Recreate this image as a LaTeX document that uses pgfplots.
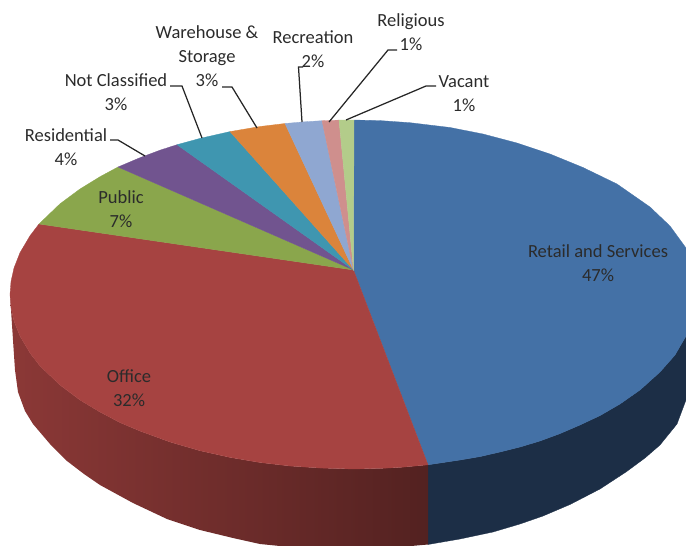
\documentclass[border=0pt]{standalone}
\usepackage{fontspec}
\setmainfont{Carlito}
\usepackage{pgfplots}
\pgfplotsset{compat=1.18}
\definecolor{cRetail}{HTML}{4471A6}
\definecolor{cOffice}{HTML}{A64341}
\definecolor{cPublic}{HTML}{8AA64C}
\definecolor{cResid}{HTML}{71548F}
\definecolor{cNotCl}{HTML}{3F96B0}
\definecolor{cWare}{HTML}{DB843B}
\definecolor{cRecr}{HTML}{8FA7D1}
\definecolor{cRelig}{HTML}{CF8F8D}
\definecolor{cVacant}{HTML}{B3CC8A}
\definecolor{cRetailSide}{HTML}{1C2E46}
\definecolor{txt}{HTML}{2B2B2B}
\tikzset{
  wedge/.style={draw=#1,fill=#1,line width=.3pt},
  leader/.style={black!85,line width=1.25pt},
  lab/.style={font=\fontsize{18.5}{24}\selectfont,align=center,text=txt,inner sep=0pt},
}
\begin{document}
\begin{tikzpicture}
\begin{axis}[
  scale only axis,width=686pt,height=546pt,
  xmin=0,xmax=686,ymin=0,ymax=546,y dir=reverse,
  xtick=\empty,ytick=\empty,axis line style={draw=none},
  no markers,clip=true,
]
% side walls
\addplot[wedge=cRetailSide] coordinates {
  (428,464.8)(440,463)(460,460)(480,456.6)(500,452)(520,447)(540,441)(560,433.6)(580,425)(600,415.6)(620,404)(640,390)(660,372)(675,355)(686,336)(690,327)(694,313)(696,294.5)
  (698,349)(695,375)(686,400)(677,424)(660,445)(645,458)(626,472)(600,489)(570,504.5)(543,516)(520,524)(493,532)(460,539)(428,544.5)} --cycle;
\addplot[draw=none,left color=cOffice!84!black,middle color=cOffice!72!black,right color=cOffice!50!black] coordinates {
  (428,464.8)(400,467.4)(380,468.4)(353,469)(320,468)(290,466)(260,462.5)(230,457.4)(200,450.7)(170,442)(140,431)(120,422.6)(100,412)(80,400)(60,385)(40,366)(30,353)(20,336)(14,321)(11,307.5)(10,294.5)
  (13,340)(15,370)(18,392)(25,411)(33,424)(50,444)(67,461)(84,474)(100,485)(133,503)(167,519)(200,530)(233,538)(260,544)(300,548)(353,549)(400,547)(428,544.5)} --cycle;
% top surface
\addplot[wedge=cRetail] coordinates {
  (353.5,270)(354,120)(380,120.6)(410,122.7)(450,127.5)(483,134)(517,143)(550,154)(583,167.5)(617,184)(650,207)(670,226)(686,248)(692,265)(696,294.5)
  (694,313)(690,327)(686,336)(675,355)(660,372)(640,390)(620,404)(600,415.6)(580,425)(560,433.6)(540,441)(520,447)(500,452)(480,456.6)(460,460)(440,463)(428,464.8)} --cycle;
\addplot[wedge=cOffice] coordinates {
  (353.5,270)(428,464.8)(400,467.4)(380,468.4)(353,469)(320,468)(290,466)(260,462.5)(230,457.4)(200,450.7)(170,442)(140,431)(120,422.6)(100,412)(80,400)(60,385)(40,366)(30,353)(20,336)(14,321)(11,307.5)(10,294.5)
  (11,281.5)(14,268)(20,252.7)(30,235.8)(39,224)} --cycle;
\addplot[wedge=cPublic] coordinates {(353.5,270)(39,224)(60,203.8)(80,189)(100,176.7)(118,167)} --cycle;
\addplot[wedge=cResid] coordinates {(353.5,270)(118,167)(140,157.7)(160,150.2)(177,144.7)} --cycle;
\addplot[wedge=cNotCl] coordinates {(353.5,270)(177,144.7)(200,138.4)(230,131.6)} --cycle;
\addplot[wedge=cWare] coordinates {(353.5,270)(230,131.6)(260,126.5)(285,123.5)} --cycle;
\addplot[wedge=cRecr] coordinates {(353.5,270)(285,123.5)(303,121.9)(322,120.7)} --cycle;
\addplot[wedge=cRelig] coordinates {(353.5,270)(322,120.7)(339,120.1)} --cycle;
\addplot[wedge=cVacant] coordinates {(353.5,270)(339,120.1)(354,120)} --cycle;
% leader lines
\addplot[leader] coordinates {(110,140)(118,140)(145,156)};
\addplot[leader] coordinates {(170,86)(182,86)(202,138)};
\addplot[leader] coordinates {(222,87)(232,87)(257,128)};
\addplot[leader] coordinates {(303,67)(298.5,67)(302,122)};
\addplot[leader] coordinates {(397,50)(388,50)(329,122)};
\addplot[leader] coordinates {(436,86)(426,86)(346,120)};
% labels
\node[lab] at (axis cs:598,263) {Retail and Services\\47\%};
\node[lab] at (axis cs:129,388) {Office\\32\%};
\node[lab] at (axis cs:121,209) {Public\\7\%};
\node[lab] at (axis cs:66,147) {Residential\\4\%};
\node[lab] at (axis cs:116,92) {Not Classified\\3\%};
\node[lab] at (axis cs:207,56) {Warehouse \&\\Storage\\3\%};
\node[lab] at (axis cs:313,49) {Recreation\\2\%};
\node[lab] at (axis cs:411,32) {Religious\\1\%};
\node[lab] at (axis cs:464,94) {Vacant\\1\%};
\end{axis}
\end{tikzpicture}
\end{document}
